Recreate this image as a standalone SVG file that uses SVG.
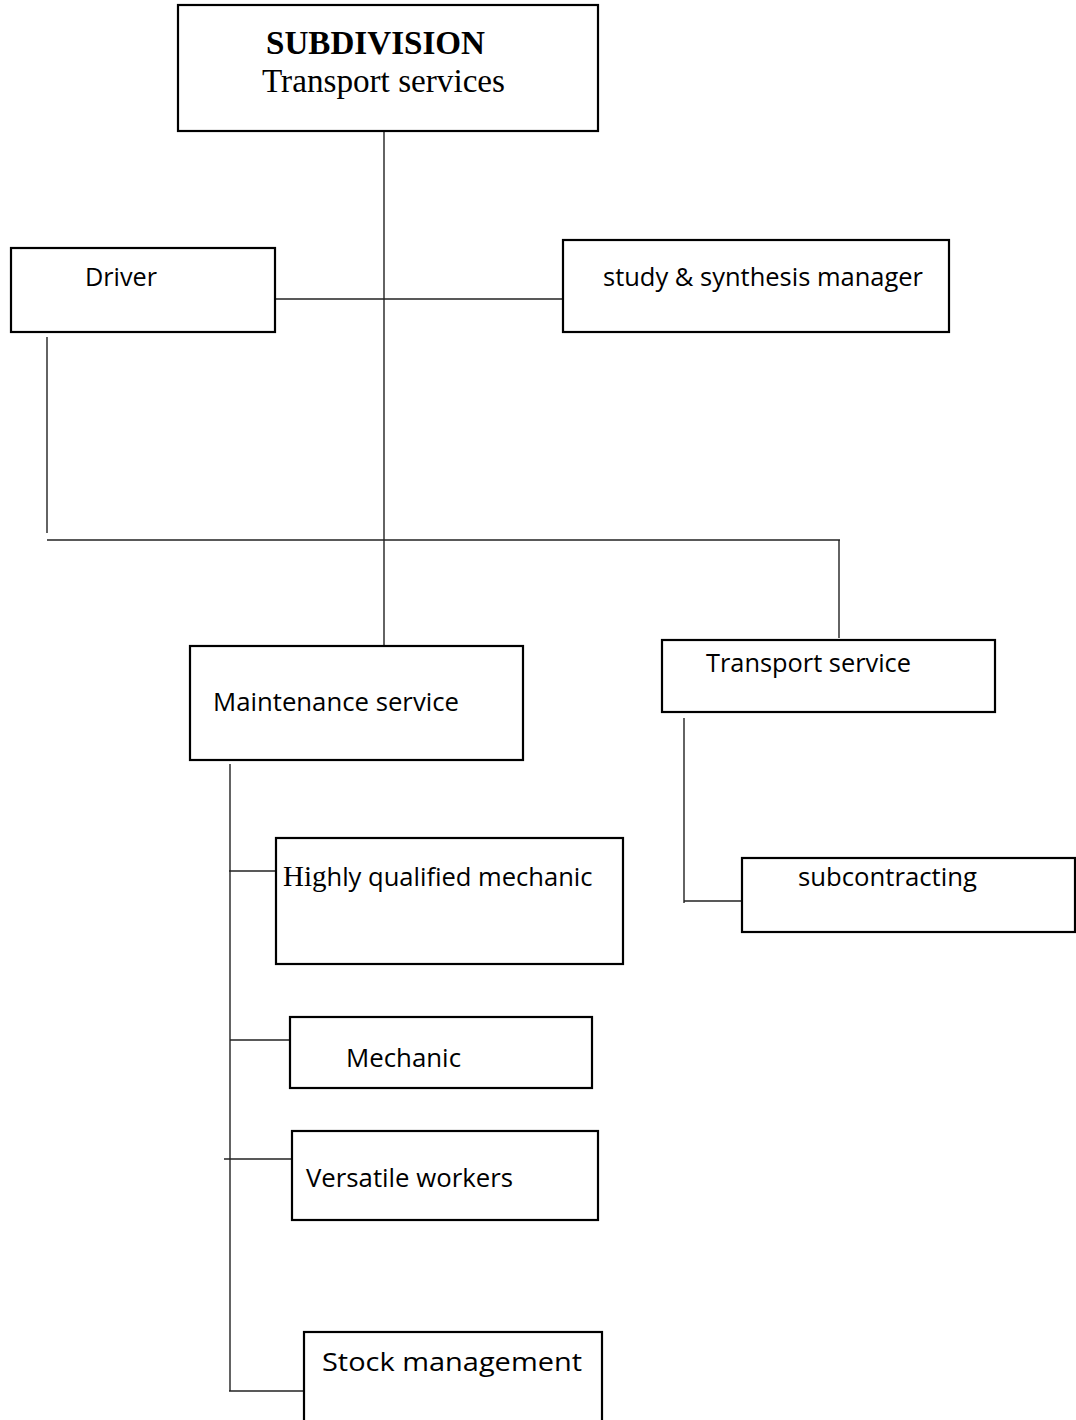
<svg xmlns="http://www.w3.org/2000/svg" width="1076" height="1420" viewBox="0 0 1076 1420">
  <style>
    .box { fill: #fff; stroke: #000; stroke-width: 2.2; }
    .link { fill: none; stroke: #222; stroke-width: 1.4; }
    .lbl { font-family: "Open Sans", "Noto Sans", "DejaVu Sans", sans-serif; font-size: 26px; fill: #000; }
    .serif { font-family: "Liberation Serif", "Times New Roman", serif; fill: #000; }
  </style>
  <rect width="1076" height="1420" fill="#fff"/>

  <!-- connectors -->
  <g id="connectors">
    <line class="link" x1="384" y1="131" x2="384" y2="646"/>
    <line class="link" x1="275" y1="299" x2="563" y2="299"/>
    <line class="link" x1="47" y1="337" x2="47" y2="533"/>
    <line class="link" x1="47" y1="540" x2="840" y2="540"/>
    <line class="link" x1="839" y1="540" x2="839" y2="638"/>
    <line class="link" x1="684" y1="718" x2="684" y2="903"/>
    <line class="link" x1="684" y1="901" x2="742" y2="901"/>
    <line class="link" x1="230" y1="764" x2="230" y2="1391"/>
    <line class="link" x1="229" y1="871" x2="283" y2="871"/>
    <line class="link" x1="230" y1="1040" x2="290" y2="1040"/>
    <line class="link" x1="224" y1="1159" x2="295" y2="1159"/>
    <line class="link" x1="229" y1="1391" x2="304" y2="1391"/>
  </g>

  <!-- nodes -->
  <g id="subdivision">
    <rect class="box" x="178" y="5" width="420" height="126"/>
    <text class="serif" x="266" y="54" font-size="33" font-weight="bold" textLength="219" lengthAdjust="spacingAndGlyphs">SUBDIVISION</text>
    <text class="serif" x="262" y="92" font-size="33" textLength="243" lengthAdjust="spacingAndGlyphs">Transport services</text>
  </g>

  <g id="driver">
    <rect class="box" x="11" y="248" width="264" height="84"/>
    <text class="lbl" x="85" y="286" textLength="72" lengthAdjust="spacingAndGlyphs">Driver</text>
  </g>

  <g id="study-manager">
    <rect class="box" x="563" y="240" width="386" height="92"/>
    <text class="lbl" x="603" y="286" textLength="320" lengthAdjust="spacingAndGlyphs">study &amp; synthesis manager</text>
  </g>

  <g id="maintenance">
    <rect class="box" x="190" y="646" width="333" height="114"/>
    <text class="lbl" x="213" y="711" textLength="246" lengthAdjust="spacingAndGlyphs">Maintenance service</text>
  </g>

  <g id="transport-service">
    <rect class="box" x="662" y="640" width="333" height="72"/>
    <text class="lbl" x="706" y="672" textLength="205" lengthAdjust="spacingAndGlyphs">Transport service</text>
  </g>

  <g id="subcontracting">
    <rect class="box" x="742" y="858" width="333" height="74"/>
    <text class="lbl" x="798" y="886" textLength="179" lengthAdjust="spacingAndGlyphs">subcontracting</text>
  </g>

  <g id="highly-qualified">
    <rect class="box" x="276" y="838" width="347" height="126"/>
    <text x="283" y="886"><tspan class="serif" font-size="29">Hig</tspan><tspan class="lbl" textLength="266" lengthAdjust="spacingAndGlyphs">hly qualified mechanic</tspan></text>
  </g>

  <g id="mechanic">
    <rect class="box" x="290" y="1017" width="302" height="71"/>
    <text class="lbl" x="346" y="1067" textLength="115" lengthAdjust="spacingAndGlyphs">Mechanic</text>
  </g>

  <g id="versatile">
    <rect class="box" x="292" y="1131" width="306" height="89"/>
    <text class="lbl" x="306" y="1187" textLength="207" lengthAdjust="spacingAndGlyphs">Versatile workers</text>
  </g>

  <g id="stock">
    <rect class="box" x="304" y="1332" width="298" height="92"/>
    <text class="lbl" x="322" y="1371" font-size="29.5" textLength="260" lengthAdjust="spacingAndGlyphs">Stock management</text>
  </g>
</svg>
